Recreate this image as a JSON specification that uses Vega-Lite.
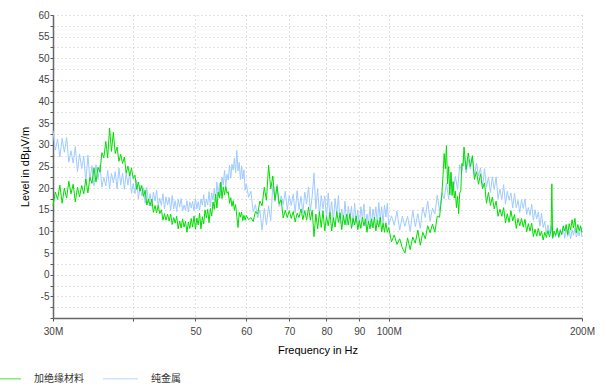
{
"$schema":"https://vega.github.io/schema/vega-lite/v6.json",
"width":529,"height":303,
"autosize":"none",
"padding":{"left":53,"top":15,"right":24,"bottom":72},
"background":"#ffffff",
"config":{"view":{"stroke":null},"font":"Liberation Sans"},
"datasets":{
"blue":[{"f":30,"v":33.3},{"f":30.25,"v":28.8},{"f":30.5,"v":31.3},{"f":30.75,"v":27.2},{"f":31,"v":31.5},{"f":31.25,"v":28.3},{"f":31.5,"v":31.7},{"f":31.75,"v":26.0},{"f":32,"v":28.6},{"f":32.25,"v":25.8},{"f":32.5,"v":29.6},{"f":32.75,"v":23.8},{"f":33,"v":27.9},{"f":33.25,"v":24.5},{"f":33.5,"v":27.4},{"f":33.75,"v":21.4},{"f":34,"v":27.6},{"f":34.25,"v":21.8},{"f":34.5,"v":25.2},{"f":34.75,"v":20.5},{"f":35,"v":25.4},{"f":35.25,"v":22.0},{"f":35.5,"v":25.3},{"f":35.75,"v":20.2},{"f":36,"v":22.5},{"f":36.25,"v":20.5},{"f":36.5,"v":24.1},{"f":36.75,"v":19.9},{"f":37,"v":23.4},{"f":37.25,"v":21.2},{"f":37.5,"v":23.8},{"f":37.75,"v":19.8},{"f":38,"v":24.7},{"f":38.25,"v":20.7},{"f":38.5,"v":23.5},{"f":38.75,"v":19.7},{"f":39,"v":23.6},{"f":39.25,"v":20.7},{"f":39.5,"v":23.7},{"f":39.75,"v":18.8},{"f":40,"v":21.0},{"f":40.25,"v":18.7},{"f":40.5,"v":21.9},{"f":40.75,"v":17.5},{"f":41,"v":20.6},{"f":41.25,"v":18.2},{"f":41.5,"v":20.1},{"f":41.75,"v":16.5},{"f":42,"v":20.2},{"f":42.25,"v":16.6},{"f":42.5,"v":18.7},{"f":42.75,"v":15.8},{"f":43,"v":19.1},{"f":43.25,"v":17.0},{"f":43.5,"v":19.5},{"f":43.75,"v":15.8},{"f":44,"v":17.7},{"f":44.25,"v":16.0},{"f":44.5,"v":18.7},{"f":44.75,"v":15.2},{"f":45,"v":18.0},{"f":45.25,"v":16.1},{"f":45.5,"v":17.9},{"f":45.75,"v":14.8},{"f":46,"v":18.3},{"f":46.25,"v":15.2},{"f":46.5,"v":17.1},{"f":46.75,"v":14.6},{"f":47,"v":17.4},{"f":47.25,"v":15.6},{"f":47.5,"v":17.6},{"f":47.75,"v":14.7},{"f":48,"v":16.1},{"f":48.25,"v":14.9},{"f":48.5,"v":17.1},{"f":48.75,"v":14.5},{"f":49,"v":16.8},{"f":49.25,"v":15.4},{"f":49.5,"v":17.0},{"f":49.75,"v":14.7},{"f":50,"v":17.6},{"f":50.25,"v":15.2},{"f":50.5,"v":16.9},{"f":50.75,"v":14.9},{"f":51,"v":17.5},{"f":51.25,"v":16.1},{"f":51.5,"v":18.5},{"f":51.75,"v":15.6},{"f":52,"v":17.5},{"f":52.25,"v":16.1},{"f":52.5,"v":19.2},{"f":52.75,"v":15.7},{"f":53,"v":18.9},{"f":53.25,"v":17.3},{"f":53.5,"v":19.9},{"f":53.75,"v":16.8},{"f":54,"v":21.4},{"f":54.25,"v":18.2},{"f":54.5,"v":21.1},{"f":54.75,"v":18.3},{"f":55,"v":22.6},{"f":55.25,"v":20.7},{"f":55.5,"v":24.1},{"f":55.75,"v":20.5},{"f":56,"v":23.2},{"f":56.25,"v":21.9},{"f":56.5,"v":25.3},{"f":56.75,"v":22.3},{"f":57,"v":25.5},{"f":57.25,"v":24.2},{"f":57.5,"v":26.9},{"f":57.75,"v":23.6},{"f":58,"v":28.7},{"f":58.25,"v":24.0},{"f":58.5,"v":26.0},{"f":58.75,"v":21.9},{"f":59,"v":25.1},{"f":59.25,"v":22.1},{"f":59.5,"v":24.2},{"f":59.75,"v":19.5},{"f":60,"v":21.0},{"f":60.5,"v":17.9},{"f":61,"v":19.3},{"f":61.5,"v":14.5},{"f":62,"v":16.2},{"f":62.5,"v":13.1},{"f":63,"v":15.0},{"f":63.5,"v":10.3},{"f":64,"v":15.3},{"f":64.5,"v":11.5},{"f":65,"v":15.9},{"f":65.5,"v":12.5},{"f":66,"v":20.8},{"f":66.5,"v":16.9},{"f":67,"v":20.9},{"f":67.5,"v":15.8},{"f":68,"v":18.2},{"f":68.5,"v":16.2},{"f":69,"v":19.3},{"f":69.5,"v":15.0},{"f":70,"v":18.3},{"f":70.5,"v":16.0},{"f":71,"v":18.6},{"f":71.5,"v":14.3},{"f":72,"v":19.4},{"f":72.5,"v":15.1},{"f":73,"v":18.1},{"f":73.5,"v":14.2},{"f":74,"v":19.1},{"f":74.5,"v":16.3},{"f":75,"v":20.3},{"f":75.5,"v":14.7},{"f":76,"v":18.1},{"f":76.5,"v":23.5},{"f":77,"v":15.2},{"f":77.5,"v":19.8},{"f":78,"v":13.8},{"f":78.5,"v":18.3},{"f":79,"v":15.2},{"f":79.5,"v":18.2},{"f":80,"v":12.9},{"f":80.5,"v":18.9},{"f":81,"v":13.5},{"f":81.5,"v":16.9},{"f":82,"v":12.1},{"f":82.5,"v":17.6},{"f":83,"v":14.0},{"f":83.5,"v":18.3},{"f":84,"v":11.8},{"f":84.5,"v":15.2},{"f":85,"v":12.4},{"f":85.5,"v":17.0},{"f":86,"v":11.4},{"f":86.5,"v":15.8},{"f":87,"v":13.0},{"f":87.5,"v":15.8},{"f":88,"v":11.2},{"f":88.5,"v":16.5},{"f":89,"v":11.9},{"f":89.5,"v":14.9},{"f":90,"v":11.0},{"f":90.5,"v":15.7},{"f":91,"v":12.8},{"f":91.5,"v":16.3},{"f":92,"v":11.2},{"f":92.5,"v":14.0},{"f":93,"v":11.6},{"f":93.5,"v":15.7},{"f":94,"v":11.1},{"f":94.5,"v":15.2},{"f":95,"v":12.9},{"f":95.5,"v":15.7},{"f":96,"v":11.6},{"f":96.5,"v":16.7},{"f":97,"v":12.8},{"f":97.5,"v":15.7},{"f":98,"v":11.9},{"f":98.5,"v":16.1},{"f":99,"v":13.3},{"f":99.5,"v":16.5},{"f":100,"v":11.5},{"f":101,"v":13.6},{"f":102,"v":11.4},{"f":103,"v":14.7},{"f":104,"v":10.3},{"f":105,"v":13.5},{"f":106,"v":11.2},{"f":107,"v":13.5},{"f":108,"v":10.0},{"f":109,"v":14.9},{"f":110,"v":11.1},{"f":111,"v":14.1},{"f":112,"v":10.7},{"f":113,"v":15.6},{"f":114,"v":13.2},{"f":115,"v":17.0},{"f":116,"v":12.4},{"f":117,"v":15.4},{"f":118,"v":14.0},{"f":119,"v":18.4},{"f":120,"v":14.7},{"f":121,"v":18.9},{"f":122,"v":17.5},{"f":123,"v":21.2},{"f":124,"v":17.4},{"f":125,"v":23.5},{"f":126,"v":19.0},{"f":127,"v":22.7},{"f":128,"v":19.7},{"f":129,"v":25.4},{"f":130,"v":23.7},{"f":131,"v":27.6},{"f":132,"v":23.5},{"f":133,"v":26.6},{"f":134,"v":24.4},{"f":135,"v":27.6},{"f":136,"v":22.7},{"f":137,"v":25.8},{"f":138,"v":22.8},{"f":139,"v":24.7},{"f":140,"v":20.0},{"f":141,"v":24.5},{"f":142,"v":20.2},{"f":143,"v":22.6},{"f":144,"v":19.0},{"f":145,"v":22.6},{"f":146,"v":19.7},{"f":147,"v":22.6},{"f":148,"v":17.6},{"f":149,"v":19.8},{"f":150,"v":17.4},{"f":151,"v":20.8},{"f":152,"v":16.3},{"f":153,"v":19.3},{"f":154,"v":17.2},{"f":155,"v":18.9},{"f":156,"v":15.4},{"f":157,"v":18.8},{"f":158,"v":15.5},{"f":159,"v":17.2},{"f":160,"v":14.4},{"f":161,"v":17.3},{"f":162,"v":15.3},{"f":163,"v":17.5},{"f":164,"v":13.9},{"f":165,"v":15.5},{"f":166,"v":13.7},{"f":167,"v":16.3},{"f":168,"v":12.6},{"f":169,"v":15.0},{"f":170,"v":12.9},{"f":171,"v":14.5},{"f":172,"v":11.2},{"f":173,"v":14.2},{"f":174,"v":10.9},{"f":175,"v":12.3},{"f":176,"v":9.4},{"f":177,"v":11.5},{"f":178,"v":9.6},{"f":179,"v":11.3},{"f":180,"v":8.3},{"f":181,"v":9.9},{"f":182,"v":8.7},{"f":183,"v":10.9},{"f":184,"v":8.5},{"f":185,"v":10.6},{"f":186,"v":9.3},{"f":187,"v":10.9},{"f":188,"v":8.4},{"f":189,"v":11.2},{"f":190,"v":8.8},{"f":191,"v":10.2},{"f":192,"v":8.3},{"f":193,"v":10.4},{"f":194,"v":9.1},{"f":195,"v":10.8},{"f":196,"v":8.7},{"f":197,"v":10.1},{"f":198,"v":9.0},{"f":199,"v":11.0},{"f":200,"v":8.7}],
"green":[{"f":30,"v":15.9},{"f":30.25,"v":19.1},{"f":30.5,"v":17.4},{"f":30.75,"v":20.7},{"f":31,"v":16.5},{"f":31.25,"v":20.0},{"f":31.5,"v":17.7},{"f":31.75,"v":21.6},{"f":32,"v":18.7},{"f":32.25,"v":20.9},{"f":32.5,"v":16.8},{"f":32.75,"v":20.2},{"f":33,"v":18.0},{"f":33.25,"v":20.6},{"f":33.5,"v":18.7},{"f":33.75,"v":22.1},{"f":34,"v":18.9},{"f":34.25,"v":22.5},{"f":34.5,"v":21.1},{"f":34.75,"v":24.7},{"f":35,"v":21.4},{"f":35.25,"v":24.8},{"f":35.5,"v":23.7},{"f":35.75,"v":28.2},{"f":36,"v":27.0},{"f":36.25,"v":30.8},{"f":36.5,"v":27.0},{"f":36.75,"v":33.9},{"f":37,"v":28.5},{"f":37.25,"v":32.9},{"f":37.5,"v":28.0},{"f":37.75,"v":29.5},{"f":38,"v":26.2},{"f":38.25,"v":27.8},{"f":38.5,"v":25.7},{"f":38.75,"v":27.2},{"f":39,"v":23.5},{"f":39.25,"v":25.1},{"f":39.5,"v":22.8},{"f":39.75,"v":24.7},{"f":40,"v":22.2},{"f":40.25,"v":23.0},{"f":40.5,"v":19.7},{"f":40.75,"v":21.4},{"f":41,"v":19.3},{"f":41.25,"v":20.6},{"f":41.5,"v":18.1},{"f":41.75,"v":19.5},{"f":42,"v":16.1},{"f":42.25,"v":17.5},{"f":42.5,"v":15.9},{"f":42.75,"v":17.5},{"f":43,"v":14.4},{"f":43.25,"v":16.0},{"f":43.5,"v":14.3},{"f":43.75,"v":16.0},{"f":44,"v":14.1},{"f":44.25,"v":15.0},{"f":44.5,"v":12.6},{"f":44.75,"v":14.1},{"f":45,"v":12.6},{"f":45.25,"v":14.0},{"f":45.5,"v":12.4},{"f":45.75,"v":14.0},{"f":46,"v":11.6},{"f":46.25,"v":13.2},{"f":46.5,"v":11.9},{"f":46.75,"v":13.5},{"f":47,"v":10.6},{"f":47.25,"v":12.4},{"f":47.5,"v":10.8},{"f":47.75,"v":12.9},{"f":48,"v":11.0},{"f":48.25,"v":12.3},{"f":48.5,"v":9.8},{"f":48.75,"v":12.2},{"f":49,"v":10.7},{"f":49.25,"v":13.0},{"f":49.5,"v":11.0},{"f":49.75,"v":13.6},{"f":50,"v":10.5},{"f":50.25,"v":13.1},{"f":50.5,"v":11.5},{"f":50.75,"v":14.2},{"f":51,"v":10.6},{"f":51.25,"v":13.4},{"f":51.5,"v":11.7},{"f":51.75,"v":15.0},{"f":52,"v":13.1},{"f":52.25,"v":15.1},{"f":52.5,"v":12.0},{"f":52.75,"v":15.3},{"f":53,"v":13.6},{"f":53.25,"v":16.8},{"f":53.5,"v":15.1},{"f":53.75,"v":18.6},{"f":54,"v":15.4},{"f":54.25,"v":19.1},{"f":54.5,"v":17.7},{"f":54.75,"v":21.4},{"f":55,"v":17.6},{"f":55.25,"v":20.3},{"f":55.5,"v":18.4},{"f":55.75,"v":20.4},{"f":56,"v":18.8},{"f":56.25,"v":19.2},{"f":56.5,"v":16.5},{"f":56.75,"v":17.8},{"f":57,"v":15.8},{"f":57.25,"v":17.1},{"f":57.5,"v":14.9},{"f":57.75,"v":16.2},{"f":58,"v":13.4},{"f":58.25,"v":10.9},{"f":58.5,"v":14.4},{"f":58.75,"v":13.3},{"f":59,"v":14.5},{"f":59.25,"v":12.5},{"f":59.5,"v":13.7},{"f":59.75,"v":12.6},{"f":60,"v":13.7},{"f":60.5,"v":12.7},{"f":61,"v":13.2},{"f":61.5,"v":12.3},{"f":62,"v":14.6},{"f":62.5,"v":14.0},{"f":63,"v":17.0},{"f":63.5,"v":15.9},{"f":64,"v":20.2},{"f":64.5,"v":17.2},{"f":65,"v":25.3},{"f":65.5,"v":19.8},{"f":66,"v":22.8},{"f":66.5,"v":17.2},{"f":67,"v":20.4},{"f":67.5,"v":16.4},{"f":68,"v":17.3},{"f":68.5,"v":13.1},{"f":69,"v":14.9},{"f":69.5,"v":13.2},{"f":70,"v":14.8},{"f":70.5,"v":13.0},{"f":71,"v":14.6},{"f":71.5,"v":12.2},{"f":72,"v":14.2},{"f":72.5,"v":13.2},{"f":73,"v":15.2},{"f":73.5,"v":12.7},{"f":74,"v":14.8},{"f":74.5,"v":12.6},{"f":75,"v":15.6},{"f":75.5,"v":12.6},{"f":76,"v":14.9},{"f":76.5,"v":8.8},{"f":77,"v":14.0},{"f":77.5,"v":10.6},{"f":78,"v":14.6},{"f":78.5,"v":10.9},{"f":79,"v":14.8},{"f":79.5,"v":10.1},{"f":80,"v":13.4},{"f":80.5,"v":11.3},{"f":81,"v":14.4},{"f":81.5,"v":10.1},{"f":82,"v":13.2},{"f":82.5,"v":11.0},{"f":83,"v":14.6},{"f":83.5,"v":12.1},{"f":84,"v":14.3},{"f":84.5,"v":10.4},{"f":85,"v":13.7},{"f":85.5,"v":11.5},{"f":86,"v":14.0},{"f":86.5,"v":11.5},{"f":87,"v":14.1},{"f":87.5,"v":10.7},{"f":88,"v":13.0},{"f":88.5,"v":11.5},{"f":89,"v":13.6},{"f":89.5,"v":10.4},{"f":90,"v":12.5},{"f":90.5,"v":10.7},{"f":91,"v":13.3},{"f":91.5,"v":11.3},{"f":92,"v":12.9},{"f":92.5,"v":9.8},{"f":93,"v":12.4},{"f":93.5,"v":10.6},{"f":94,"v":12.9},{"f":94.5,"v":10.8},{"f":95,"v":13.3},{"f":95.5,"v":10.1},{"f":96,"v":12.6},{"f":96.5,"v":11.0},{"f":97,"v":13.3},{"f":97.5,"v":9.9},{"f":98,"v":11.9},{"f":98.5,"v":9.8},{"f":99,"v":12.0},{"f":99.5,"v":9.8},{"f":100,"v":10.9},{"f":101,"v":7.6},{"f":102,"v":9.2},{"f":103,"v":7.0},{"f":104,"v":8.3},{"f":105,"v":6.2},{"f":106,"v":5.0},{"f":107,"v":8.5},{"f":108,"v":5.8},{"f":109,"v":8.7},{"f":110,"v":7.3},{"f":111,"v":10.3},{"f":112,"v":6.8},{"f":113,"v":9.8},{"f":114,"v":8.3},{"f":115,"v":11.3},{"f":116,"v":9.7},{"f":117,"v":11.7},{"f":118,"v":9.8},{"f":119,"v":13.5},{"f":120,"v":13.3},{"f":121,"v":18.5},{"f":121.5,"v":23.0},{"f":122,"v":28.0},{"f":122.5,"v":24.5},{"f":123,"v":29.8},{"f":123.5,"v":21.0},{"f":124,"v":25.0},{"f":124.5,"v":18.5},{"f":125,"v":23.7},{"f":125.5,"v":18.3},{"f":126,"v":21.5},{"f":126.5,"v":17.7},{"f":127,"v":19.3},{"f":127.5,"v":15.5},{"f":128,"v":18.1},{"f":128.5,"v":14.1},{"f":129,"v":18.9},{"f":129.5,"v":19.4},{"f":130,"v":25.7},{"f":130.5,"v":25.1},{"f":131,"v":29.5},{"f":132,"v":24.3},{"f":133,"v":28.1},{"f":134,"v":25.0},{"f":135,"v":27.4},{"f":136,"v":22.0},{"f":137,"v":23.8},{"f":138,"v":20.9},{"f":139,"v":23.3},{"f":140,"v":19.9},{"f":141,"v":21.2},{"f":142,"v":16.5},{"f":143,"v":19.0},{"f":144,"v":16.0},{"f":145,"v":17.9},{"f":146,"v":15.2},{"f":147,"v":17.0},{"f":148,"v":13.5},{"f":149,"v":15.1},{"f":150,"v":13.5},{"f":151,"v":15.5},{"f":152,"v":12.0},{"f":153,"v":14.1},{"f":154,"v":12.1},{"f":155,"v":14.8},{"f":156,"v":12.4},{"f":157,"v":13.9},{"f":158,"v":10.7},{"f":159,"v":13.0},{"f":160,"v":11.3},{"f":161,"v":13.0},{"f":162,"v":11.0},{"f":163,"v":12.8},{"f":164,"v":9.9},{"f":165,"v":11.8},{"f":166,"v":10.1},{"f":167,"v":11.9},{"f":168,"v":8.8},{"f":169,"v":10.5},{"f":170,"v":8.9},{"f":171,"v":10.7},{"f":172,"v":9.0},{"f":173,"v":10.0},{"f":174,"v":8.0},{"f":175,"v":9.8},{"f":176,"v":8.6},{"f":177,"v":10.2},{"f":178,"v":8.7},{"f":179,"v":10.4},{"f":179.5,"v":21.0},{"f":180,"v":8.5},{"f":181,"v":10.1},{"f":182,"v":9.1},{"f":183,"v":10.7},{"f":184,"v":8.7},{"f":185,"v":10.2},{"f":186,"v":9.3},{"f":187,"v":11.3},{"f":188,"v":10.1},{"f":189,"v":11.6},{"f":190,"v":9.3},{"f":191,"v":11.8},{"f":192,"v":10.3},{"f":193,"v":12.7},{"f":194,"v":10.8},{"f":195,"v":13.0},{"f":196,"v":9.7},{"f":197,"v":11.6},{"f":198,"v":10.1},{"f":199,"v":11.3},{"f":200,"v":9.8}]
},
"encoding":{
"x":{"field":"f","type":"quantitative","scale":{"type":"log","domain":[30,200],"nice":false},
"axis":{"values":[30,40,50,60,70,80,90,100,200],"labelExpr":"datum.value==40?'':((datum.value==30||datum.value>=100)?datum.value+'M':datum.value+'')","title":"Frequency in Hz","grid":true,"gridDash":[1,3],"gridColor":"#c4c4c4","domainColor":"#666666","domainWidth":1.5,"tickColor":"#555555","tickSize":3,"labelPadding":5,"labelFont":"Liberation Sans","labelFontSize":10,"labelColor":"#444444","labelFlush":false,"labelOverlap":false,"labelBound":false,"titleFont":"Liberation Sans","titleFontSize":11,"titleFontWeight":"normal","titleColor":"#000000","titlePadding":8}},
"y":{"field":"v","type":"quantitative","scale":{"domain":[-10,60],"nice":false,"zero":false},
"axis":{"values":[-10,-7.5,-5,-2.5,0,2.5,5,7.5,10,12.5,15,17.5,20,22.5,25,27.5,30,32.5,35,37.5,40,42.5,45,47.5,50,52.5,55,57.5,60],"labelExpr":"(datum.value%5==0 && datum.value>-10)?datum.value+'':''","title":"Level in dBµV/m","grid":true,"gridDash":[1,3],"gridColor":"#c4c4c4","domainColor":"#666666","domainWidth":1.5,"tickColor":"#555555","tickSize":3,"labelPadding":1,"labelFont":"Liberation Sans","labelFontSize":10,"labelColor":"#444444","labelFlush":false,"labelOverlap":false,"labelBound":false,"titleFont":"Liberation Sans","titleFontSize":11,"titleFontWeight":"normal","titleColor":"#000000","titlePadding":7}}
},
"layer":[
{"data":{"name":"blue"},"mark":{"type":"line","strokeWidth":1},
"encoding":{"color":{"datum":"纯金属","scale":{"domain":["加绝缘材料","纯金属"],"range":["#00dd00","#a0cbff"]},
"legend":{"orient":"none","legendX":-68,"legendY":345,"direction":"horizontal","symbolType":"stroke","symbolSize":1225,"symbolStrokeWidth":1.5,"symbolOpacity":0.5,"labelFont":"Noto Sans CJK SC","labelFontSize":10,"labelColor":"#333333","labelOffset":12,"columnPadding":16,"padding":0,"title":null}}}},
{"data":{"name":"green"},"mark":{"type":"line","strokeWidth":1},
"encoding":{"color":{"datum":"加绝缘材料","scale":{"domain":["加绝缘材料","纯金属"],"range":["#00dd00","#a0cbff"]}}}}
]
}
